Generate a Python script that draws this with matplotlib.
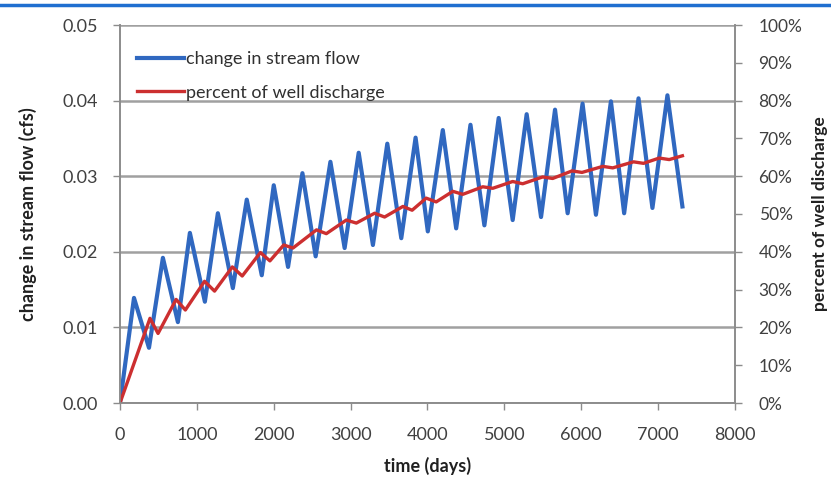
import matplotlib
matplotlib.use("Agg")
import matplotlib.pyplot as plt
from matplotlib.lines import Line2D
from matplotlib.ticker import FuncFormatter

plt.rcParams['font.family'] = ['Lato', 'DejaVu Sans']

# change in stream flow (cfs), read at peaks and troughs
flow_days = [0, 182, 377, 558, 753, 909, 1104, 1273, 1468, 1649, 1844, 2000, 2186,
             2373, 2545, 2737, 2922, 3105, 3290, 3477, 3659, 3845, 4004, 4199, 4373,
             4559, 4740, 4926, 5108, 5290, 5477, 5659, 5823, 6017, 6191, 6386, 6558,
             6745, 6926, 7121, 7316]
flow_cfs = [0.0, 0.0139, 0.0073, 0.0192, 0.0107, 0.0225, 0.0134, 0.0251, 0.0152,
            0.0269, 0.0169, 0.0288, 0.0180, 0.0304, 0.0194, 0.0319, 0.0205, 0.0331,
            0.0209, 0.0343, 0.0218, 0.0351, 0.0227, 0.0361, 0.0231, 0.0368, 0.0235,
            0.0377, 0.0242, 0.0382, 0.0246, 0.0388, 0.0251, 0.0396, 0.0249, 0.0399,
            0.0251, 0.0403, 0.0258, 0.0407, 0.0260]

# percent of well discharge
pct_days = [0, 390, 495, 730, 850, 1100, 1230, 1461, 1590, 1826, 1950, 2130, 2250,
            2556, 2684, 2944, 3074, 3312, 3442, 3680, 3800, 3983, 4113, 4329, 4459,
            4719, 4849, 5108, 5238, 5498, 5628, 5880, 6010, 6280, 6410, 6680, 6810,
            7014, 7144, 7316]
pct_well = [0, 22.4, 18.4, 27.4, 24.6, 32.2, 29.6, 36.0, 33.6, 39.8, 37.6, 41.8, 41.0,
            45.8, 44.8, 48.4, 47.6, 50.2, 49.2, 52.0, 51.0, 54.2, 53.2, 56.0, 55.2,
            57.2, 56.8, 58.6, 58.0, 59.8, 59.4, 61.4, 61.0, 62.6, 62.2, 63.8, 63.4,
            64.8, 64.4, 65.4]

x_ticks = [0, 1000, 2000, 3000, 4000, 5000, 6000, 7000, 8000]
flow_ticks = [0.0, 0.01, 0.02, 0.03, 0.04, 0.05]
pct_ticks = [0, 10, 20, 30, 40, 50, 60, 70, 80, 90, 100]

grey = '#8c8c8c'
fs = 13
fig = plt.figure(figsize=(8.31, 4.84), dpi=100)
ax = fig.add_axes([120/831, 1-403/484, 615/831, 378/484])
ax2 = ax.twinx()

l1, = ax.plot(flow_days, flow_cfs, color='#3068c0', lw=3.0, solid_joinstyle='round',
              label='change in stream flow')
l2, = ax2.plot(pct_days, pct_well, color='#cc2f30', lw=2.4, solid_joinstyle='round',
               label='percent of well discharge')

ax.set_xlim(0, 8000)
ax.set_ylim(0, 0.05)
ax2.set_ylim(0, 100)
ax.set_xticks(x_ticks)
ax.set_yticks(flow_ticks)
ax2.set_yticks(pct_ticks)
ax.yaxis.set_major_formatter(FuncFormatter(lambda v, p: f'{v:.2f}'))
ax2.yaxis.set_major_formatter(FuncFormatter(lambda v, p: f'{v:.0f}%'))

ax.grid(axis='y', color='#a0a0a0', lw=1.8)
ax.set_axisbelow(True)
for a in (ax, ax2):
    for s in a.spines.values():
        s.set_color(grey)
        s.set_linewidth(1.2)
    a.spines['top'].set_visible(False)
    a.tick_params(colors=grey, labelcolor='#404040', labelsize=fs, length=5, width=1)
ax.tick_params(axis='y', pad=11)
ax.tick_params(axis='x', pad=12)
ax2.tick_params(axis='y', pad=12, labelsize=12.5)

ax.set_xlabel('time (days)', fontsize=fs, fontweight='bold', color='#202020', labelpad=10)
ax.set_ylabel('change in stream flow (cfs)', fontsize=fs, fontweight='bold',
              color='#202020', labelpad=18)
ax2.set_ylabel('percent of well discharge', fontsize=12.5, fontweight='bold',
               color='#202020', labelpad=7)

ax2.legend(handles=[l1, l2], loc='upper left', bbox_to_anchor=(0.028, 0.93),
           frameon=False, fontsize=fs, handlelength=2.6, handletextpad=0.1,
           labelspacing=0.95, borderaxespad=0, borderpad=0, labelcolor='#303030')

fig.add_artist(Line2D([0, 1], [0.99, 0.99], color='#1f6fd0', lw=2.5,
                      transform=fig.transFigure))

fig.savefig('out.png', dpi=100)
